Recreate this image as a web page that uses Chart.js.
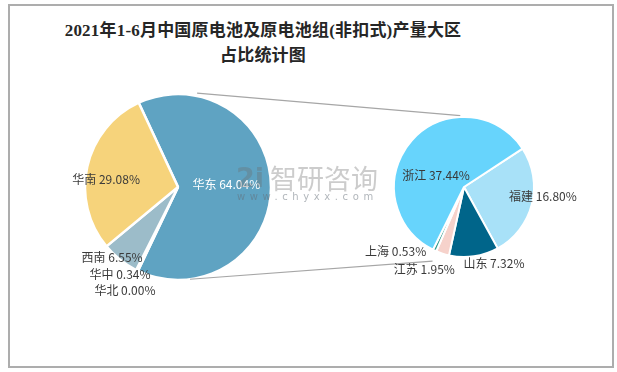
<!DOCTYPE html>
<html>
<head>
<meta charset="utf-8">
<script src="https://cdn.jsdelivr.net/npm/chart.js@4.4.0/dist/chart.umd.min.js"></script>
<style>
    html, body { margin: 0; padding: 0; background: #fff; }
    #wrap { position: relative; width: 617px; height: 372px; overflow: hidden; }
    #frame { position: absolute; left: 8px; top: 4px; width: 602px; height: 360px; border: 2px solid #adadad; }
    #title { position: absolute; left: 0; top: 18px; width: 526px; text-align: center;
             font: bold 17px/25px "Liberation Serif", "Noto Sans CJK SC", serif; color: #262626; letter-spacing: 0.2px; }
    canvas { position: absolute; left: 0; top: 0; }
    #wm { position: absolute; left: 236px; top: 163px; color: rgba(110, 110, 110, 0.35); pointer-events: none; }
    #wm .logo { position: absolute; left: 0; top: 0; font: bold 27px/30px "DejaVu Sans", sans-serif; }
    #wm .name { position: absolute; left: 34px; top: 0; font: 27px/30px "Noto Sans CJK SC", sans-serif; white-space: nowrap; }
    #wm .url { position: absolute; left: 1px; top: 28px; font: 10px/12px "DejaVu Sans", sans-serif; letter-spacing: 4.6px;
               white-space: nowrap; color: rgba(100, 110, 120, 0.5); }
</style>
</head>
<body>
<div id="wrap">
    <div id="frame"></div>
    <div id="title">2021年1-6月中国原电池及原电池组(非扣式)产量大区<br>占比统计图</div>
    <canvas id="mainPie" width="617" height="372"></canvas>
    <canvas id="subPie" width="617" height="372"></canvas>
    <div id="wm"><span class="logo">2i</span><span class="name">智研咨询</span><span class="url">www.chyxx.com</span></div>
</div>
<script>
// données : part de la production par grande région (%)
const mainLabels = ['华东', '华北', '华中', '西南', '华南'];
const mainValues = [64.04, 0.00, 0.34, 6.55, 29.08];

// détail de 华东 par province (% du total national)
const subLabels = ['福建', '山东', '江苏', '上海', '浙江'];
const subValues = [16.80, 7.32, 1.95, 0.53, 37.44];

const mainColors = ['#5fa3c2', '#4a7f96', '#6f93a5', '#9cbcc9', '#f6d37b'];
const subColors = ['#a8e1f8', '#00658a', '#f6d2cb', '#2e9b8e', '#67d4fc'];

// position des étiquettes : fraction du rayon + petit décalage
const mainLabelPos = [
    { k: 0.52, dx: 0, dy: -3, color: '#ffffff' },
    { k: 1.0, dx: -13, dy: 20 },
    { k: 1.0, dx: -17, dy: 4 },
    { k: 1.0, dx: -8, dy: -2 },
    { k: 0.77, dx: -2, dy: 8 }
];
const subLabelPos = [
    { k: 1.0, dx: 11, dy: -8 },
    { k: 1.1, dx: 19, dy: 0 },
    { k: 1.1, dx: -16, dy: 9 },
    { k: 1.1, dx: -36, dy: -5 },
    { k: 0.4, dx: -7, dy: 7 }
];

// traits de liaison : angle (degrés depuis midi) et facteur de rayon
const connectors = [
    { from: { deg: 11.5, k: 1.03 }, to: { deg: -3, k: 1.02 } },
    { from: { deg: 172.6, k: 1.0 }, to: { deg: 203, k: 1.15 } }
];

function labelPlugin(id, pos) {
    return {
        id: id,
        afterDatasetsDraw(chart) {
            const ctx = chart.ctx;
            const meta = chart.getDatasetMeta(0);
            const values = chart.data.datasets[0].data;
            ctx.save();
            ctx.font = '12px "Noto Sans CJK SC", sans-serif';
            ctx.textAlign = 'center';
            ctx.textBaseline = 'middle';
            meta.data.forEach((arc, i) => {
                const p = pos[i];
                const mid = (arc.startAngle + arc.endAngle) / 2;
                const r = arc.outerRadius * p.k;
                const x = arc.x + Math.cos(mid) * r + p.dx;
                const y = arc.y + Math.sin(mid) * r + p.dy;
                ctx.fillStyle = p.color || '#3a3a3a';
                ctx.fillText(chart.data.labels[i] + ' ' + values[i].toFixed(2) + '%', x, y);
            });
            ctx.restore();
        }
    };
}

function edgePoint(arc, deg, k) {
    const a = (deg - 90) * Math.PI / 180;
    return [arc.x + Math.cos(a) * arc.outerRadius * k, arc.y + Math.sin(a) * arc.outerRadius * k];
}

const mainChart = new Chart(document.getElementById('mainPie'), {
    type: 'pie',
    data: {
        labels: mainLabels,
        datasets: [{
            data: mainValues,
            backgroundColor: mainColors,
            borderColor: '#ffffff',
            borderWidth: 2.5
        }]
    },
    options: {
        responsive: false,
        animation: false,
        rotation: -25,
        radius: 93,
        layout: { padding: { left: 85, right: 346, top: 94, bottom: 92 } },
        plugins: { legend: { display: false }, tooltip: { enabled: false } }
    },
    plugins: [labelPlugin('mainLabels', mainLabelPos)]
});

const subChart = new Chart(document.getElementById('subPie'), {
    type: 'pie',
    data: {
        labels: subLabels,
        datasets: [{
            data: subValues,
            backgroundColor: subColors,
            borderColor: '#ffffff',
            borderWidth: 2
        }]
    },
    options: {
        responsive: false,
        animation: false,
        rotation: 56.8,
        radius: 70,
        layout: { padding: { left: 394, right: 83, top: 117, bottom: 115 } },
        plugins: { legend: { display: false }, tooltip: { enabled: false } }
    },
    plugins: [
        {
            id: 'connectors',
            beforeDatasetsDraw(chart) {
                const a = mainChart.getDatasetMeta(0).data[0];
                const b = chart.getDatasetMeta(0).data[0];
                const ctx = chart.ctx;
                ctx.save();
                ctx.strokeStyle = '#a6a6a6';
                ctx.lineWidth = 1.2;
                connectors.forEach(c => {
                    const p1 = edgePoint(a, c.from.deg, c.from.k);
                    const p2 = edgePoint(b, c.to.deg, c.to.k);
                    ctx.beginPath();
                    ctx.moveTo(p1[0], p1[1]);
                    ctx.lineTo(p2[0], p2[1]);
                    ctx.stroke();
                });
                ctx.restore();
            }
        },
        labelPlugin('subLabels', subLabelPos)
    ]
});
</script>
</body>
</html>
